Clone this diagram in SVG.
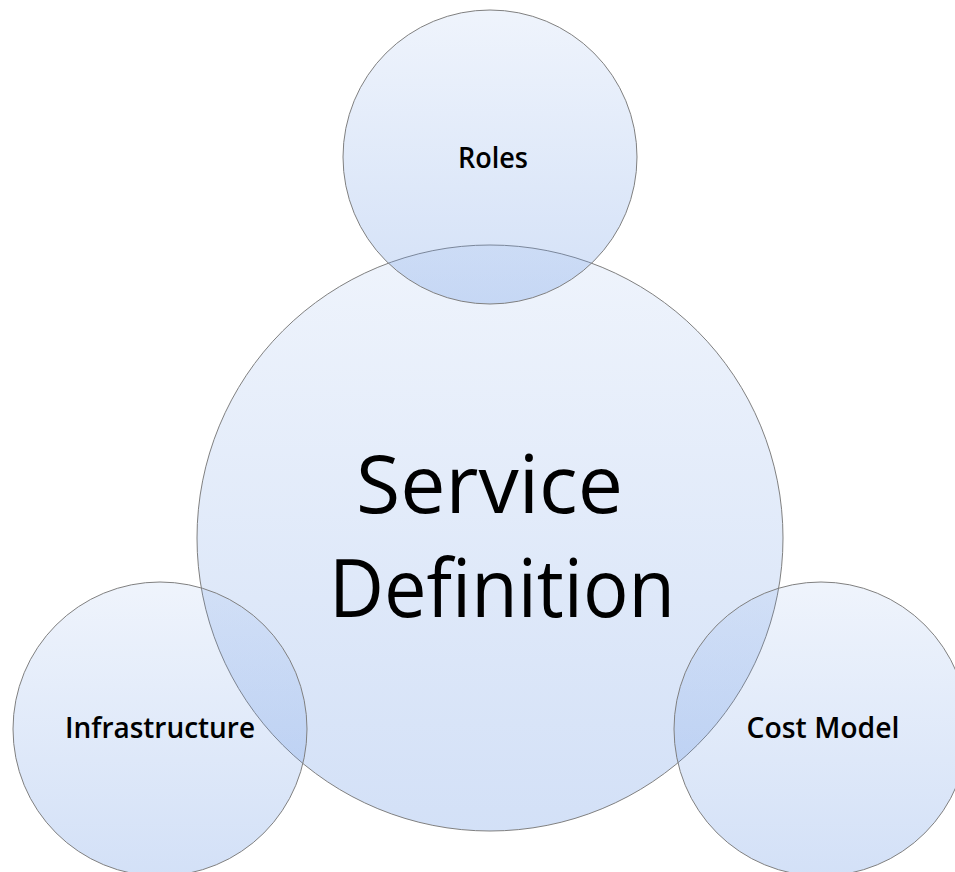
<svg xmlns="http://www.w3.org/2000/svg" width="955" height="872" viewBox="0 0 955 872">
<style>
.c{fill:url(#g);stroke:#808080;stroke-width:1}
.t{font-family:"Open Sans","Noto Sans",sans-serif;fill:#000;text-anchor:middle}
.s{font-weight:600}
</style>
<defs>
<linearGradient id="g" x1="0" y1="0" x2="0" y2="1">
<stop offset="0" stop-color="#6c99e4" stop-opacity="0.11"/>
<stop offset="1" stop-color="#6c99e4" stop-opacity="0.3"/>
</linearGradient>
</defs>
<rect width="955" height="872" fill="#fff"/>
<g id="service-definition">
<circle class="c" cx="490" cy="538" r="293"/>
<text class="t" x="489.5" y="513" font-size="81" textLength="267" lengthAdjust="spacingAndGlyphs">Service</text>
<text class="t" x="502" y="617" font-size="81" textLength="346" lengthAdjust="spacingAndGlyphs">Definition</text>
</g>
<g id="roles">
<circle class="c" cx="490" cy="157" r="147"/>
<text class="t s" x="493" y="168" font-size="28" textLength="70" lengthAdjust="spacingAndGlyphs">Roles</text>
</g>
<g id="infrastructure">
<circle class="c" cx="160" cy="729" r="147"/>
<text class="t s" x="160" y="738" font-size="28" textLength="190" lengthAdjust="spacingAndGlyphs">Infrastructure</text>
</g>
<g id="cost-model">
<circle class="c" cx="821" cy="729" r="147"/>
<text class="t s" x="823" y="738" font-size="28" textLength="153" lengthAdjust="spacingAndGlyphs">Cost Model</text>
</g>
<g id="connectors"></g>
</svg>
